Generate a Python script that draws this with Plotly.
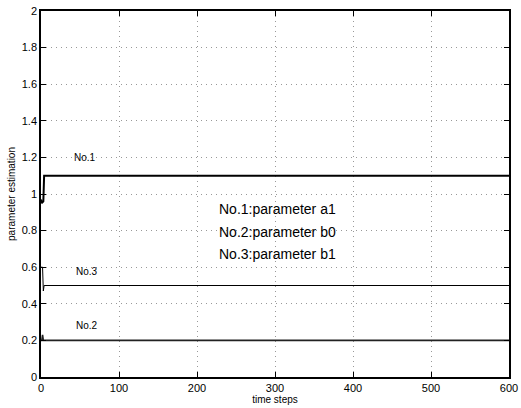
import plotly.graph_objects as go

# Data
steps_a1 = [0, 1, 3, 4, 600]
a1 = [0.97, 0.95, 0.96, 1.1, 1.1]

steps_b0 = [0, 1, 2, 3, 600]
b0 = [0.2, 0.2, 0.23, 0.2, 0.2]

steps_b1 = [0, 2, 3, 4, 600]
b1 = [0.6, 0.6, 0.47, 0.5, 0.5]

series_labels = ["No.1", "No.2", "No.3"]
label_x = [57, 59, 59]
label_y = [1.2, 0.284, 0.574]

legend_text = ["No.1:parameter a1", "No.2:parameter b0", "No.3:parameter b1"]
legend_x = 303
legend_y = [0.918, 0.795, 0.672]

x_ticks = [0, 100, 200, 300, 400, 500, 600]
y_ticks = [0, 0.2, 0.4, 0.6, 0.8, 1, 1.2, 1.4, 1.6, 1.8, 2]
y_ticktext = ["0", "0.2", "0.4", "0.6", "0.8", "1", "1.2", "1.4", "1.6", "1.8", "2"]

FONT = "Liberation Sans, Arial"

fig = go.Figure()
fig.add_trace(go.Scatter(x=steps_a1, y=a1, mode="lines",
                         line=dict(color="black", width=2), showlegend=False))
fig.add_trace(go.Scatter(x=steps_b0, y=b0, mode="lines",
                         line=dict(color="#222222", width=1.6), showlegend=False))
fig.add_trace(go.Scatter(x=steps_b1, y=b1, mode="lines",
                         line=dict(color="black", width=1), showlegend=False))

for t, x, y in zip(series_labels, label_x, label_y):
    fig.add_annotation(x=x, y=y, text=t, showarrow=False,
                       font=dict(family=FONT, size=10, color="black"))
for t, y in zip(legend_text, legend_y):
    fig.add_annotation(x=legend_x, y=y, text=t, showarrow=False,
                       font=dict(family=FONT, size=14, color="black"))

axis_common = dict(
    showline=True, linecolor="black", linewidth=1.5, mirror="ticks",
    ticks="inside", ticklen=5, tickcolor="black",
    showgrid=True, gridcolor="#999999", griddash="1px,4px", gridwidth=1,
    zeroline=False, automargin=False,
    tickfont=dict(family=FONT, size=11, color="black"),
)

fig.update_xaxes(range=[0, 600], tickvals=x_ticks,
                 title=dict(text="time steps", standoff=2,
                            font=dict(family=FONT, size=10, color="black")),
                 **axis_common)
fig.update_yaxes(range=[0, 2], tickvals=y_ticks, ticktext=y_ticktext,
                 title=dict(text="parameter estimation", standoff=4,
                            font=dict(family=FONT, size=10, color="black")),
                 **axis_common)

fig.update_layout(width=521, height=408, margin=dict(l=41, r=12, t=11, b=31),
                  plot_bgcolor="white", paper_bgcolor="white")

fig.write_html("out.html")
